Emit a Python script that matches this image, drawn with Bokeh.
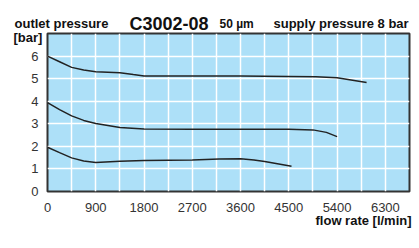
from bokeh.plotting import figure
from bokeh.models import Range1d, FixedTicker, SingleIntervalTicker, Title
from bokeh.embed import file_html
from bokeh.resources import INLINE

# data
x_ticks = [0, 900, 1800, 2700, 3600, 4500, 5400, 6300]
y_ticks = [0, 1, 2, 3, 4, 5, 6]

top_x = [0, 225, 450, 675, 900, 1350, 1600, 1800, 2700, 3600, 4500, 5000, 5400, 5950]
top_y = [6.0, 5.75, 5.5, 5.38, 5.31, 5.26, 5.18, 5.12, 5.12, 5.12, 5.1, 5.08, 5.04, 4.83]

mid_x = [0, 225, 450, 675, 900, 1350, 1800, 2700, 3600, 4500, 4950, 5200, 5400]
mid_y = [3.94, 3.63, 3.35, 3.15, 3.01, 2.84, 2.77, 2.76, 2.76, 2.76, 2.73, 2.62, 2.43]

low_x = [0, 225, 450, 675, 900, 1350, 1800, 2700, 3200, 3600, 3850, 4050, 4550]
low_y = [1.96, 1.72, 1.49, 1.35, 1.29, 1.34, 1.37, 1.40, 1.44, 1.45, 1.40, 1.33, 1.12]

FONT = "Liberation Sans"

p = figure(frame_width=362, frame_height=158, output_backend="svg", toolbar_location=None,
           x_range=Range1d(0, 6750), y_range=Range1d(0, 7),
           min_border_left=47, min_border_right=10, min_border_top=33, min_border_bottom=57)
p.background_fill_color = "#ade0f8"
p.border_fill_color = "white"
p.outline_line_color = "#333333"
p.outline_line_width = 2

p.xgrid.ticker = SingleIntervalTicker(interval=450)
p.ygrid.ticker = SingleIntervalTicker(interval=1)
for g in (p.xgrid[0], p.ygrid[0]):
    g.grid_line_color = "white"
    g.grid_line_width = 1.5

p.xaxis.ticker = FixedTicker(ticks=x_ticks)
p.yaxis.ticker = FixedTicker(ticks=y_ticks)
for ax in (p.xaxis[0], p.yaxis[0]):
    ax.axis_line_color = None
    ax.major_tick_line_color = None
    ax.minor_tick_line_color = None
    ax.major_tick_out = 0
    ax.major_tick_in = 0
    ax.minor_tick_out = 0
    ax.minor_tick_in = 0
    ax.major_label_text_font = FONT
    ax.major_label_text_font_size = "13px"
    ax.major_label_text_color = "#333333"
p.xaxis.major_label_standoff = 11
p.yaxis.major_label_standoff = 9

for xs, ys in ((top_x, top_y), (mid_x, mid_y), (low_x, low_y)):
    p.line(xs, ys, line_color="#222222", line_width=1.5)


def title(text, size, offset, standoff, valign, side):
    p.add_layout(Title(text=text, text_font=FONT, text_font_size=size, text_font_style="bold",
                       text_color="#111111", align="left", offset=offset, standoff=standoff,
                       vertical_align=valign), side)


# panels above, closest to the frame first
title("[bar]", "13px", -34, -22.6, "bottom", "above")
title(" ", "13px", 0, -7.3, "bottom", "above")  # spacer
for txt, size, off in (("outlet pressure", 13, -33), ("C3002-08", 18, 82),
                       ("50 µm", 12, 172), ("supply pressure 8 bar", 13, 226)):
    title(txt, f"{size}px", off, -(2 + 1.15 * size), "middle", "above")

title("flow rate [l/min]", "13px", 268, -3.6, "top", "below")

open("out.html", "w").write(file_html(p, INLINE))
